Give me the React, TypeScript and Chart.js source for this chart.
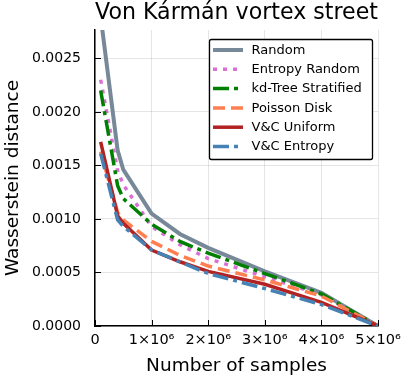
import React, { useEffect, useRef } from "react";
import { Chart, registerables } from "chart.js";

Chart.register(...registerables);

const FONT = "'DejaVu Sans', sans-serif";

const titleText = "Von Kármán vortex street";
const xTitle = "Number of samples";
const yTitle = "Wasserstein distance";

const samples = [100000, 400000, 500000, 1000000, 1500000, 2000000, 3000000, 4000000, 5000000];

const seriesNames = ["Random", "Entropy Random", "kd-Tree Stratified", "Poisson Disk", "V&C Uniform", "V&C Entropy"];
const randomVals = [0.00289, 0.00164, 0.00146, 0.00105, 0.00086, 0.00073, 0.00051, 0.00031, 0];
const entropyRandomVals = [0.0023, 0.00145, 0.00132, 0.00093, 0.00076, 0.00063, 0.00046, 0.00029, 0];
const kdTreeVals = [0.0022, 0.00131, 0.00119, 0.00095, 0.00079, 0.00068, 0.00049, 0.0003, 0];
const poissonVals = [0.00163, 0.00106, 0.00099, 0.00079, 0.00066, 0.00056, 0.00043, 0.00028, 0];
const vcUniformVals = [0.00172, 0.00103, 0.00096, 0.00071, 0.0006, 0.00051, 0.00039, 0.00022, 0];
const vcEntropyVals = [0.00161, 0.00099, 0.00093, 0.00071, 0.0006, 0.00049, 0.00035, 0.0002, 0];

const xTicks = [0, 1000000, 2000000, 3000000, 4000000, 5000000];
const xTickLabels = ["0", "1×10⁶", "2×10⁶", "3×10⁶", "4×10⁶", "5×10⁶"];
const yTicks = [0, 0.0005, 0.001, 0.0015, 0.002, 0.0025];
const yTickLabels = ["0.0000", "0.0005", "0.0010", "0.0015", "0.0020", "0.0025"];

const xMin = 0;
const xMax = 5000000;
const yMin = 0;
const yMax = 0.002765;

const allVals = [randomVals, entropyRandomVals, kdTreeVals, poissonVals, vcUniformVals, vcEntropyVals];
const colors = ["#778899", "#da70d6", "#008000", "#ff7f50", "#b22222", "#4682b4"];
const dashes: number[][] = [[], [4, 6], [16, 5, 4, 5], [12, 6], [], [16, 5, 4, 5]];
const widths = [4, 3.5, 3.5, 3.5, 3.5, 3.5];

const inwardTicks = {
  id: "inwardTicks",
  afterDraw(chart: any) {
    const { ctx, chartArea, scales } = chart;
    ctx.save();
    ctx.strokeStyle = "#000";
    ctx.lineWidth = 1;
    ctx.beginPath();
    xTicks.forEach((v) => {
      const px = Math.round(scales.x.getPixelForValue(v)) + 0.5;
      ctx.moveTo(px, chartArea.bottom);
      ctx.lineTo(px, chartArea.bottom - 6);
    });
    yTicks.forEach((v) => {
      const py = Math.round(scales.y.getPixelForValue(v)) + 0.5;
      ctx.moveTo(chartArea.left, py);
      ctx.lineTo(chartArea.left + 6, py);
    });
    ctx.stroke();
    ctx.restore();
  },
};

const boxLegend = {
  id: "boxLegend",
  afterDraw(chart: any) {
    const { ctx } = chart;
    const left = 209.5, top = 39.5, w = 163, h = 120;
    ctx.save();
    ctx.beginPath();
    if (ctx.roundRect) ctx.roundRect(left, top, w, h, 2);
    else ctx.rect(left, top, w, h);
    ctx.fillStyle = "#fff";
    ctx.fill();
    ctx.strokeStyle = "#000";
    ctx.lineWidth = 1.3;
    ctx.stroke();
    const ds = chart.data.datasets;
    ds.forEach((d: any, i: number) => {
      const y = 50 + i * 19.3;
      ctx.beginPath();
      ctx.setLineDash(d.borderDash || []);
      ctx.lineWidth = d.borderWidth;
      ctx.strokeStyle = d.borderColor;
      ctx.moveTo(213, y);
      ctx.lineTo(243, y);
      ctx.stroke();
      ctx.setLineDash([]);
      ctx.fillStyle = "#000";
      ctx.font = `13px ${FONT}`;
      ctx.textBaseline = "middle";
      ctx.textAlign = "left";
      ctx.fillText(d.label, 251.5, y + 0.5);
    });
    ctx.restore();
  },
};

export default function App() {
  const ref = useRef<HTMLCanvasElement>(null);

  useEffect(() => {
    if (!ref.current) return;
    const datasets = seriesNames.map((name, i) => ({
      label: name,
      data: samples.map((s, j) => ({ x: s, y: allVals[i][j] })),
      borderColor: colors[i],
      backgroundColor: colors[i],
      borderWidth: widths[i],
      borderDash: dashes[i],
      pointRadius: 0,
      tension: 0,
      fill: false,
      order: seriesNames.length - i,
    }));

    const chart = new Chart(ref.current, {
      type: "line",
      data: { datasets },
      options: {
        animation: false,
        responsive: false,
        devicePixelRatio: 1,
        layout: { padding: { left: 0, right: 29, top: 0, bottom: 0 } },
        plugins: {
          legend: { display: false },
          tooltip: { enabled: false },
          title: {
            display: true,
            text: titleText,
            color: "#000",
            fullSize: false,
            font: { family: FONT, size: 22.5, weight: "normal" },
            padding: { top: 0, bottom: 3 },
          },
        },
        scales: {
          x: {
            type: "linear",
            min: xMin,
            max: xMax,
            afterBuildTicks: (scale: any) => {
              scale.ticks = xTicks.map((v) => ({ value: v }));
            },
            afterFit: (scale: any) => {
              scale.height = 54;
            },
            ticks: {
              color: "#000",
              font: { family: FONT, size: 14.5 },
              padding: 6,
              maxRotation: 0,
              autoSkip: false,
              callback: (v: any) => {
                const idx = xTicks.indexOf(Number(v));
                return idx >= 0 ? xTickLabels[idx] : "";
              },
            },
            grid: { color: "rgba(0,0,0,0.1)", drawTicks: false, lineWidth: 1 },
            border: { display: true, color: "#000", width: 1.5 },
            title: {
              display: true,
              text: xTitle,
              color: "#000",
              font: { family: FONT, size: 18.5 },
              padding: { top: 0, bottom: 3 },
            },
          },
          y: {
            type: "linear",
            min: yMin,
            max: yMax,
            afterBuildTicks: (scale: any) => {
              scale.ticks = yTicks.map((v) => ({ value: v }));
            },
            afterFit: (scale: any) => {
              scale.width = 95;
            },
            ticks: {
              color: "#000",
              font: { family: FONT, size: 14 },
              padding: 14,
              autoSkip: false,
              callback: (v: any) => {
                const idx = yTicks.findIndex((t) => Math.abs(t - Number(v)) < 1e-9);
                return idx >= 0 ? yTickLabels[idx] : "";
              },
            },
            grid: { color: "rgba(0,0,0,0.1)", drawTicks: false, lineWidth: 1 },
            border: { display: true, color: "#000", width: 1.5 },
            title: {
              display: true,
              text: yTitle,
              color: "#000",
              font: { family: FONT, size: 18.5 },
              padding: { top: 2, bottom: 0 },
            },
          },
        },
      },
      plugins: [inwardTicks, boxLegend],
    } as any);

    return () => chart.destroy();
  }, []);

  return (
    <div style={{ position: "absolute", left: 0, top: 0, width: 407, height: 380, background: "#fff" }}>
      <canvas ref={ref} width={407} height={380} style={{ width: 407, height: 380, display: "block" }} />
    </div>
  );
}
